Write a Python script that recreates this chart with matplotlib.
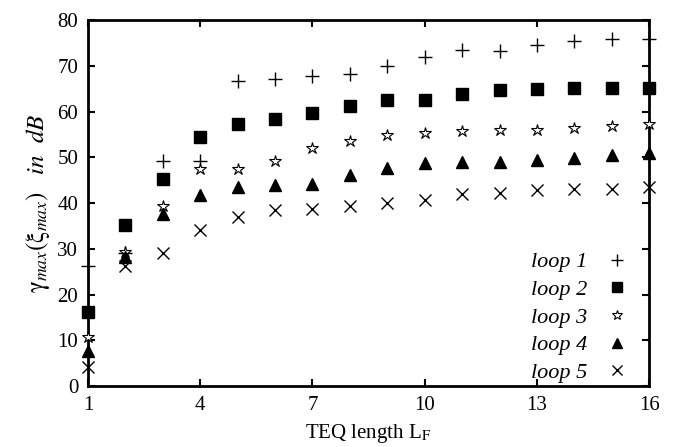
import numpy as np
import matplotlib
matplotlib.use("Agg")
from matplotlib import pyplot as plt

plt.rcParams["font.family"] = ["Liberation Serif", "DejaVu Serif"]
plt.rcParams["mathtext.fontset"] = "stix"

####################
# Data

teq_length = np.arange(1, 17)

loop1 = [26.3, 29.0, 49.3, 49.3, 66.6, 67.2, 67.7, 68.3,
         70.0, 72.0, 73.4, 73.3, 74.5, 75.4, 75.8, 75.8]
loop2 = [16.2, 35.1, 45.3, 54.5, 57.2, 58.3, 59.7, 61.3,
         62.5, 62.5, 63.8, 64.7, 64.9, 65.1, 65.1, 65.1]
loop3 = [10.8, 29.4, 39.4, 47.4, 47.4, 49.2, 52.1, 53.6,
         54.9, 55.4, 55.7, 56.0, 56.0, 56.5, 56.8, 57.2]
loop4 = [7.7, 28.3, 37.5, 41.7, 43.6, 43.9, 44.2, 46.1,
         47.7, 48.7, 49.0, 49.0, 49.4, 49.8, 50.5, 50.9]
loop5 = [4.2, 26.3, 29.0, 34.2, 36.9, 38.5, 38.8, 39.3,
         40.1, 40.7, 41.9, 42.3, 42.8, 43.0, 43.0, 43.6]

labels = ["loop 1", "loop 2", "loop 3", "loop 4", "loop 5"]
x_ticks = [1, 4, 7, 10, 13, 16]
y_ticks = list(range(0, 81, 10))

####################
# Plot

fig = plt.figure(figsize=(6.87, 4.47), dpi=100)
ax = fig.add_axes([0.128, 0.1365, 0.817, 0.8185])

styles = [
    dict(marker="+", markersize=10, markeredgewidth=1.0, color="black"),
    dict(marker="s", markersize=8, color="black"),
    dict(marker="*", markersize=9, markeredgewidth=0.8,
         markerfacecolor="white", markeredgecolor="black"),
    dict(marker="^", markersize=9, color="black"),
    dict(marker="x", markersize=8, markeredgewidth=1.0, color="black"),
]

for series, label, style in zip([loop1, loop2, loop3, loop4, loop5], labels, styles):
    ax.plot(teq_length, series, linestyle="none", label=label,
            clip_on=False, zorder=5, **style)

ax.set_xlim(1, 16)
ax.set_ylim(0, 80)
ax.set_xticks(x_ticks)
ax.set_yticks(y_ticks)
ax.tick_params(direction="in", length=5, width=1.5, top=True, right=True,
               labelsize=15, pad=7)
for spine in ax.spines.values():
    spine.set_linewidth(2)

ax.set_xlabel(r"TEQ length L$_\mathrm{F}$", fontsize=15, labelpad=5)
ax.set_ylabel(r"$\mathrm{\gamma}_{max}(\mathrm{\xi}_{max})\quad in\ \ dB$",
              fontsize=18, labelpad=4)

# legend: labels on the left, markers on the right, no frame
ax.legend(loc="lower right", markerfirst=False, frameon=False,
          prop=dict(family="Liberation Serif", style="italic", size=16),
          labelspacing=0.32, handletextpad=0.85, handlelength=1.0,
          borderaxespad=0.0, bbox_to_anchor=(0.978, -0.016),
          markerscale=0.85)

fig.savefig("out.png", dpi=100)
